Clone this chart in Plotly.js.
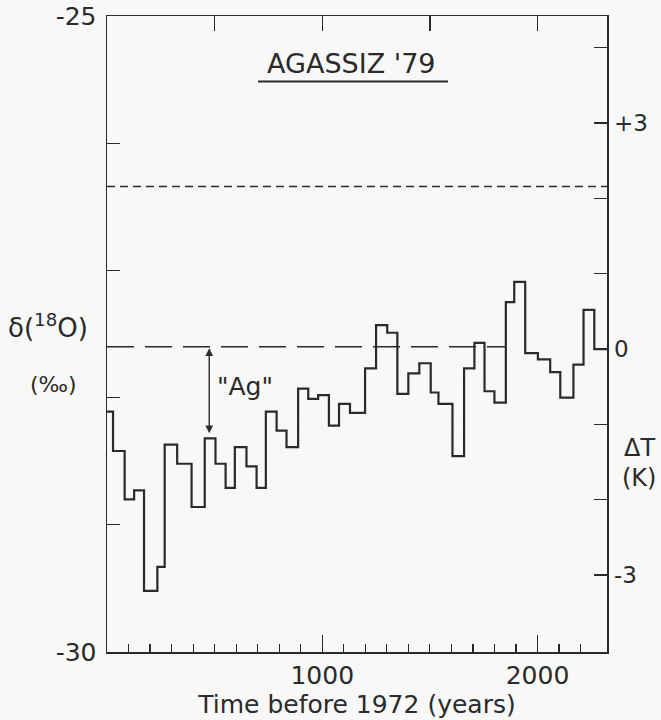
<!DOCTYPE html>
<html>
<head>
<meta charset="utf-8">
<script src="https://cdn.plot.ly/plotly-3.0.1.min.js"></script>
<style>
  html, body { margin: 0; padding: 0; background: #f7f8f7; }
  #chart { width: 661px; height: 720px; }
</style>
</head>
<body>
<div id="chart"></div>
<script>
// ---- Data ----
// Bin edges, years before 1972
const binEdgesYears = [0, 28, 82, 126, 172, 234, 268, 326, 393, 454, 504, 551, 594, 648, 695, 738, 788, 834, 888, 935, 981, 1031, 1078, 1129, 1199, 1250, 1302, 1349, 1400, 1451, 1504, 1540, 1605, 1659, 1707, 1754, 1800, 1853, 1892, 1943, 2002, 2059, 2106, 2167, 2214, 2264, 2323];
// delta 18O (permil) per bin
const delta18O = [-28.11, -28.42, -28.80, -28.73, -29.52, -29.33, -28.37, -28.52, -28.86, -28.32, -28.52, -28.71, -28.39, -28.54, -28.71, -28.11, -28.26, -28.39, -27.93, -28.01, -27.98, -28.22, -28.05, -28.12, -27.77, -27.43, -27.49, -27.97, -27.81, -27.73, -27.96, -28.05, -28.46, -27.77, -27.57, -27.95, -28.04, -27.25, -27.09, -27.65, -27.70, -27.80, -28.00, -27.74, -27.31, -27.62];
// Reference levels (permil)
const agReferenceLevel = -27.60;
const agReferenceEndYear = 1850;
const upperReferenceLevel = -26.34;
// "Ag" arrow
const agArrowYear = 475;
const agArrowTip = -28.28;
// Axis ticks
const leftTickVals = [-25, -26, -27, -28, -29, -30];
const leftTickText = ['-25', '', '', '', '', '-30'];
const rightTickVals = [4, 3, 2, 1, 0, -1, -2, -3];
const rightTickText = ['', '+3', '', '', '0', '', '', '-3'];
const bottomMajorTicks = [1000, 2000];
const bottomMajorText = ['1000', '2000'];
const topTicks = [500, 1000, 1500, 2000];
const xRange = [0, 2323];
const yRange = [-30, -25];
const kRange = [-4.02, 4.42];

// minor ticks every 100 years, excluding majors
const minorTicks = [];
for (let t = 100; t <= 2200; t += 100) { if (t % 1000 !== 0) minorTicks.push(t); }

const ink = '#2a2a2a';
const FONT = 'DejaVu Sans, sans-serif';

const stepX = binEdgesYears.slice();
const stepY = delta18O.concat([delta18O[delta18O.length - 1]]);

const traces = [
  {
    x: stepX, y: stepY, type: 'scatter', mode: 'lines',
    line: { shape: 'hv', color: ink, width: 2.2 },
    xaxis: 'x', yaxis: 'y', hoverinfo: 'skip', showlegend: false
  },
  {
    x: [], y: [], type: 'scatter', mode: 'lines',
    xaxis: 'x2', yaxis: 'y2', hoverinfo: 'skip', showlegend: false
  }
];

const layout = {
  width: 661, height: 720,
  margin: { l: 107, r: 54, t: 16, b: 68 },
  paper_bgcolor: '#f7f8f7', plot_bgcolor: '#f7f8f7',
  font: { family: FONT, color: ink, size: 24 },
  showlegend: false,
  xaxis: {
    range: xRange, showgrid: false, zeroline: false,
    showline: true, linecolor: ink, linewidth: 1.5, mirror: true,
    tickvals: bottomMajorTicks, ticktext: bottomMajorText,
    ticks: 'inside', ticklen: 17, tickwidth: 1.3, tickcolor: ink,
    minor: { tickvals: minorTicks, ticks: 'inside', ticklen: 8, tickwidth: 1.2, tickcolor: ink, showgrid: false },
    tickfont: { family: FONT, size: 25, color: ink },
    title: { text: 'Time before 1972 (years)', font: { family: FONT, size: 25, color: ink }, standoff: 0 },
    fixedrange: true
  },
  xaxis2: {
    range: xRange, overlaying: 'x', side: 'top', anchor: 'y',
    showgrid: false, zeroline: false, showline: false,
    tickvals: topTicks, showticklabels: false,
    ticks: 'inside', ticklen: 15, tickwidth: 1.3, tickcolor: ink,
    fixedrange: true
  },
  yaxis: {
    range: yRange, showgrid: false, zeroline: false,
    showline: true, linecolor: ink, linewidth: 1.5, mirror: true,
    tickvals: leftTickVals, ticktext: leftTickText,
    ticks: 'inside', ticklen: 13, tickwidth: 1.3, tickcolor: ink,
    tickfont: { family: FONT, size: 25, color: ink },
    ticklabelstandoff: 4,
    fixedrange: true
  },
  yaxis2: {
    range: kRange, overlaying: 'y', side: 'right', anchor: 'x',
    showgrid: false, zeroline: false, showline: false,
    tickvals: rightTickVals, ticktext: rightTickText,
    ticks: 'inside', ticklen: 13, tickwidth: 1.3, tickcolor: ink,
    tickfont: { family: FONT, size: 23, color: ink },
    ticklabelstandoff: 6,
    fixedrange: true
  },
  shapes: [
    { type: 'line', xref: 'x', yref: 'y', x0: xRange[0], x1: agReferenceEndYear, y0: agReferenceLevel, y1: agReferenceLevel,
      line: { color: ink, width: 1.6, dash: '27px,11px' }, layer: 'below' },
    { type: 'line', xref: 'x', yref: 'y', x0: xRange[0], x1: xRange[1], y0: upperReferenceLevel, y1: upperReferenceLevel,
      line: { color: ink, width: 1.6, dash: '8px,5px' }, layer: 'below' },
    { type: 'line', xref: 'paper', yref: 'paper', x0: 0.302, x1: 0.682, y0: 0.897, y1: 0.897,
      line: { color: ink, width: 2 } }
  ],
  annotations: [
    { xref: 'paper', yref: 'paper', x: 0.488, y: 0.926, text: "AGASSIZ '79", showarrow: false,
      xanchor: 'center', yanchor: 'middle', font: { family: FONT, size: 27, color: ink } },
    { xref: 'x', yref: 'y', x: agArrowYear, y: agArrowTip, ax: agArrowYear, ay: agReferenceLevel,
      axref: 'x', ayref: 'y', text: '', showarrow: true, arrowhead: 2, startarrowhead: 2,
      arrowside: 'end+start', arrowsize: 1.1, arrowwidth: 1.4, arrowcolor: ink, standoff: 0, startstandoff: 0 },
    { xref: 'x', yref: 'y', x: 640, y: -27.91, text: '"Ag"', showarrow: false,
      xanchor: 'center', yanchor: 'middle', font: { family: FONT, size: 25, color: ink } },
    { xref: 'paper', yref: 'paper', x: -0.119, y: 0.513, text: 'δ(<sup>18</sup>O)', showarrow: false,
      xanchor: 'center', yanchor: 'middle', font: { family: FONT, size: 26, color: ink } },
    { xref: 'paper', yref: 'paper', x: -0.108, y: 0.42, text: '(‰)', showarrow: false,
      xanchor: 'center', yanchor: 'middle', font: { family: FONT, size: 22, color: ink } },
    { xref: 'paper', yref: 'paper', x: 1.03, y: 0.321, text: 'ΔT', showarrow: false,
      xanchor: 'left', yanchor: 'middle', font: { family: FONT, size: 24, color: ink } },
    { xref: 'paper', yref: 'paper', x: 1.025, y: 0.273, text: '(K)', showarrow: false,
      xanchor: 'left', yanchor: 'middle', font: { family: FONT, size: 24, color: ink } }
  ]
};

Plotly.newPlot('chart', traces, layout, { staticPlot: true, displayModeBar: false });
</script>
</body>
</html>
